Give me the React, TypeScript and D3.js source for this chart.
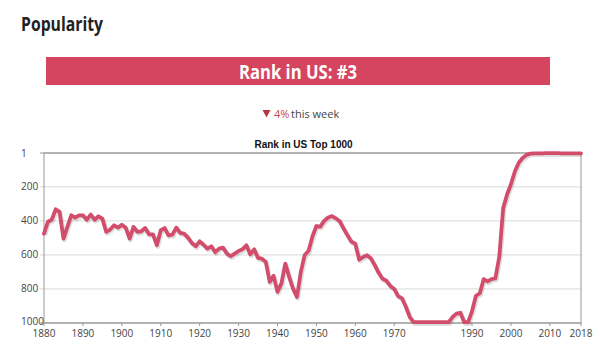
import React from "react";
import * as d3 from "d3";

const startYear = 1880;
const endYear = 2018;

// rank by year, one row per decade (1880s, 1890s, ...)
const ranks: number[] = [
  475, 405, 393, 332, 347, 504, 435, 367, 381, 367,
  367, 393, 363, 393, 373, 387, 465, 451, 426, 440,
  422, 440, 504, 435, 465, 461, 442, 479, 479, 543,
  455, 442, 485, 481, 440, 471, 475, 498, 530, 549,
  520, 540, 563, 549, 584, 563, 557, 592, 608, 592,
  577, 567, 543, 596, 567, 618, 622, 641, 759, 723,
  817, 768, 651, 729, 798, 847, 700, 600, 575, 490,
  430, 434, 400, 380, 372, 385, 402, 445, 485, 522,
  534, 628, 612, 602, 620, 660, 705, 740, 752, 782,
  800, 842, 855, 905, 965, 995, 995, 995, 995, 995,
  995, 995, 995, 995, 995, 965, 945, 940, 995, 995,
  930, 840, 825, 742, 756, 742, 738, 610, 325, 245,
  184, 110, 58, 30, 12, 5, 3, 3, 3, 2,
  2, 2, 2, 3, 3, 3, 3, 3, 3,
];

const yTicks = [1, 200, 400, 600, 800, 1000];
const xTicks = [1880, 1890, 1900, 1910, 1920, 1930, 1940, 1950, 1960, 1970, 1990, 2000, 2010, 2018];

const pageTitle = "Popularity";
const bannerText = "Rank in US: #3";
const changeValue = "4%";
const changeText = "this week";
const chartTitle = "Rank in US Top 1000";

const W = 600;
const H = 351;
const plot = { left: 44, right: 581, top: 153, bottom: 323 };

export default function App() {
  const years = d3.range(startYear, endYear + 1);
  const data = years.map((y, i) => ({ year: y, rank: ranks[i] })).filter((d) => d.rank != null);

  const x = d3.scaleLinear().domain([startYear, endYear]).range([plot.left, plot.right]);
  const y = d3.scaleLinear().domain([1, 1000]).range([plot.top, plot.bottom]);
  const line = d3
    .line<{ year: number; rank: number }>()
    .x((d) => x(d.year))
    .y((d) => y(d.rank))
    .curve(d3.curveLinear);
  const path = line(data) || "";

  const lineColor = "#d24d6c";
  const axisFont = "'Open Sans', sans-serif";

  return (
    <svg
      width={W}
      height={H}
      style={{ position: "absolute", left: 0, top: 0, background: "#fff" }}
    >
      <text
        x={21}
        y={30.5}
        fontFamily="'Open Sans', sans-serif"
        fontWeight={700}
        fontSize={19}
        fill="#222"
        textLength={82}
        lengthAdjust="spacingAndGlyphs"
      >
        {pageTitle}
      </text>

      <rect x={46} y={57} width={504} height={28} fill="#d6455f" />
      <text
        x={298}
        y={78.5}
        textAnchor="middle"
        fontFamily="'Open Sans', sans-serif"
        fontWeight={700}
        fontSize={19}
        fill="#fff"
        textLength={118}
        lengthAdjust="spacingAndGlyphs"
      >
        {bannerText}
      </text>

      <path d="M262.5,110 L270.5,110 L266.5,117.5 Z" fill="#b8343f" />
      <text x={274} y={117.5} fontFamily="'Open Sans', sans-serif" fontSize={11} fill="#c24b55">
        {changeValue}
      </text>
      <text x={291} y={117.5} fontFamily="'Open Sans', sans-serif" fontSize={11} fill="#444">
        {changeText}
      </text>

      <text
        x={303.5}
        y={148}
        textAnchor="middle"
        fontFamily="'Liberation Sans', Arial, sans-serif"
        fontWeight={700}
        fontSize={10}
        fill="#111"
      >
        {chartTitle}
      </text>

      {/* gridlines */}
      {yTicks.map((t) => (
        <line
          key={"g" + t}
          x1={plot.left - 4}
          x2={plot.right}
          y1={y(t)}
          y2={y(t)}
          stroke={t === 1 || t === 1000 ? "#999" : "#d9d9d9"}
          strokeWidth={1}
        />
      ))}
      {/* frame */}
      <rect
        x={plot.left}
        y={plot.top}
        width={plot.right - plot.left}
        height={plot.bottom - plot.top}
        fill="none"
        stroke="#999"
        strokeWidth={1}
      />
      {/* x ticks */}
      {xTicks.map((t) => (
        <line key={"xt" + t} x1={x(t)} x2={x(t)} y1={plot.bottom} y2={plot.bottom + 3} stroke="#999" />
      ))}

      {/* y labels */}
      {yTicks.map((t) => (
        <text
          key={"yl" + t}
          x={21}
          y={t === 1000 ? y(t) - 2 : y(t)}
          dy="0.35em"
          fontFamily={axisFont}
          fontSize={10}
          fill="#444"
        >
          {t}
        </text>
      ))}
      {/* x labels */}
      {xTicks.map((t) => (
        <text
          key={"xl" + t}
          x={x(t)}
          y={337}
          textAnchor="middle"
          fontFamily={axisFont}
          fontSize={10}
          fill="#444"
        >
          {t}
        </text>
      ))}

      {/* series */}
      <path
        d={path}
        fill="none"
        stroke="rgba(0,0,0,0.13)"
        strokeWidth={4.5}
        strokeLinejoin="round"
        transform="translate(1,1.5)"
      />
      <path d={path} fill="none" stroke={lineColor} strokeWidth={3.8} strokeLinejoin="round" strokeLinecap="round" />
    </svg>
  );
}
